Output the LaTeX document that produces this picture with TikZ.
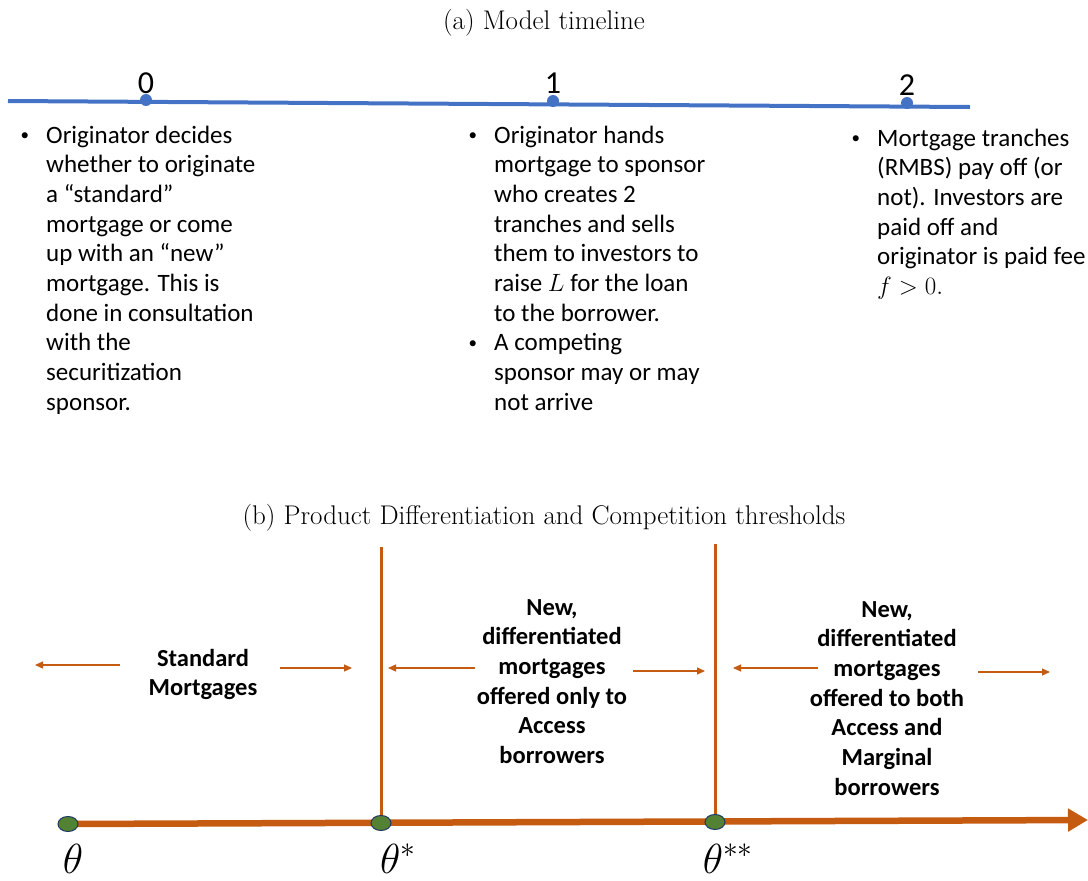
\documentclass[tikz,border=0pt]{standalone}
\usepackage{fix-cm}
\usepackage{fontspec}
\newfontfamily\calib{Carlito}
\usetikzlibrary{arrows.meta,shapes.geometric}
\definecolor{tlblue}{RGB}{68,114,196}
\definecolor{org}{RGB}{197,90,17}
\definecolor{dotgreen}{RGB}{84,130,53}
\definecolor{dotedge}{RGB}{31,56,100}
\newcommand{\bul}{\leavevmode\llap{\raisebox{2.5pt}{\fontsize{17}{17}\selectfont •}\hspace{17pt}}}
\tikzset{
  titletext/.style={font=\fontsize{27}{32}\selectfont, anchor=base, inner sep=0},
  ticklabel/.style={font=\calib\fontsize{32}{34}\selectfont, anchor=base, inner sep=0},
  bodytext/.style={font=\calib\fontsize{25}{29.7}\selectfont, anchor=base west, inner sep=0},
  boldtext/.style={font=\calib\bfseries\fontsize{24.5}{29.7}\selectfont, anchor=base, inner sep=0},
  thetalabel/.style={font=\fontsize{42}{46}\selectfont, anchor=base, inner sep=0},
  bluedot/.style={ellipse, fill=tlblue, minimum width=12pt, minimum height=12pt, inner sep=0},
  greendot/.style={ellipse, fill=dotgreen, draw=dotedge, line width=1pt, minimum width=20pt, minimum height=15pt, inner sep=0},
  smallarrow/.style={org, line width=1.2pt, -{Triangle[length=8pt,width=7pt]}},
  vline/.style={org, line width=3pt},
}
\begin{document}
\begin{tikzpicture}[x=1pt,y=-1pt]
\useasboundingbox (0,0) rectangle (1088,881);
% titles
\node[titletext] (ta) at (544,29) {(a) Model timeline};
\node[titletext] (tb) at (544,524) {(b) Product Differentiation and Competition thresholds};
% timeline
\coordinate (lstart) at (8,101);
\coordinate (lend) at (970,107);
\node[bluedot] (d0) at (146,100) {};
\node[bluedot] (d1) at (553,101) {};
\node[bluedot] (d2) at (907,103) {};
\draw[tlblue, line width=4pt] (lstart) -- (lend);
\node[ticklabel] (l0) at (146,93) {0};
\node[ticklabel] (l1) at (553,93) {1};
\node[ticklabel] (l2) at (907,95) {2};
% bullet texts
\node[bodytext] (b0) at (46,143) {\parbox[t]{260pt}{\raggedright
\bul Originator decides\\
whether to originate\\
a “standard”\\
mortgage or come\\
up with an “new”\\
mortgage. This is\\
done in consultation\\
with the\\
securitization\\
sponsor.}};
\node[bodytext] (b1) at (494,143) {\parbox[t]{260pt}{\raggedright
\bul Originator hands\\
mortgage to sponsor\\
who creates 2\\
tranches and sells\\
them to investors to\\
raise $L$ for the loan\\
to the borrower.\\
\bul A competing\\
sponsor may or may\\
not arrive}};
\node[bodytext] (b2) at (877,146) {\parbox[t]{260pt}{\raggedright
\bul Mortgage tranches\\
(RMBS) pay off (or\\
not). Investors are\\
paid off and\\
originator is paid fee\\
$f>0.$}};
% bottom axis
\coordinate (a0) at (68,824);
\coordinate (a1) at (381,823);
\coordinate (a2) at (715,822);
\coordinate (aend) at (1088,820);
\coordinate (v1top) at (381,547);
\coordinate (v2top) at (715,544);
\draw[org, line width=6.5pt, -{Triangle[length=20pt,width=22pt]}] (a0) -- (aend);
\draw[vline] (v1top) -- (a1);
\draw[vline] (v2top) -- (a2);
\node[greendot] (g0) at (a0) {};
\node[greendot] (g1) at (a1) {};
\node[greendot] (g2) at (a2) {};
\node[thetalabel] (th0) at (73,873) {$\theta$};
\node[thetalabel] (th1) at (398,873) {$\theta^*$};
\node[thetalabel] (th2) at (728,873) {$\theta^{**}$};
% region labels
\node[boldtext] (r0) at (203,666) {\parbox[t]{200pt}{\centering Standard\\Mortgages}};
\node[boldtext] (r1) at (552,615) {\parbox[t]{220pt}{\centering New,\\differentiated\\mortgages\\offered only to\\Access\\borrowers}};
\node[boldtext] (r2) at (887,617) {\parbox[t]{220pt}{\centering New,\\differentiated\\mortgages\\offered to both\\Access and\\Marginal\\borrowers}};
% small arrows
\coordinate (s0a) at (120,665); \coordinate (s0b) at (35,665);
\coordinate (s1a) at (280,668); \coordinate (s1b) at (352,668);
\coordinate (s2a) at (475,668); \coordinate (s2b) at (388,668);
\coordinate (s3a) at (633,671); \coordinate (s3b) at (705,671);
\coordinate (s4a) at (818,668); \coordinate (s4b) at (733,668);
\coordinate (s5a) at (978,672); \coordinate (s5b) at (1050,672);
\draw[smallarrow] (s0a) -- (s0b);
\draw[smallarrow] (s1a) -- (s1b);
\draw[smallarrow] (s2a) -- (s2b);
\draw[smallarrow] (s3a) -- (s3b);
\draw[smallarrow] (s4a) -- (s4b);
\draw[smallarrow] (s5a) -- (s5b);
\end{tikzpicture}
\end{document}
